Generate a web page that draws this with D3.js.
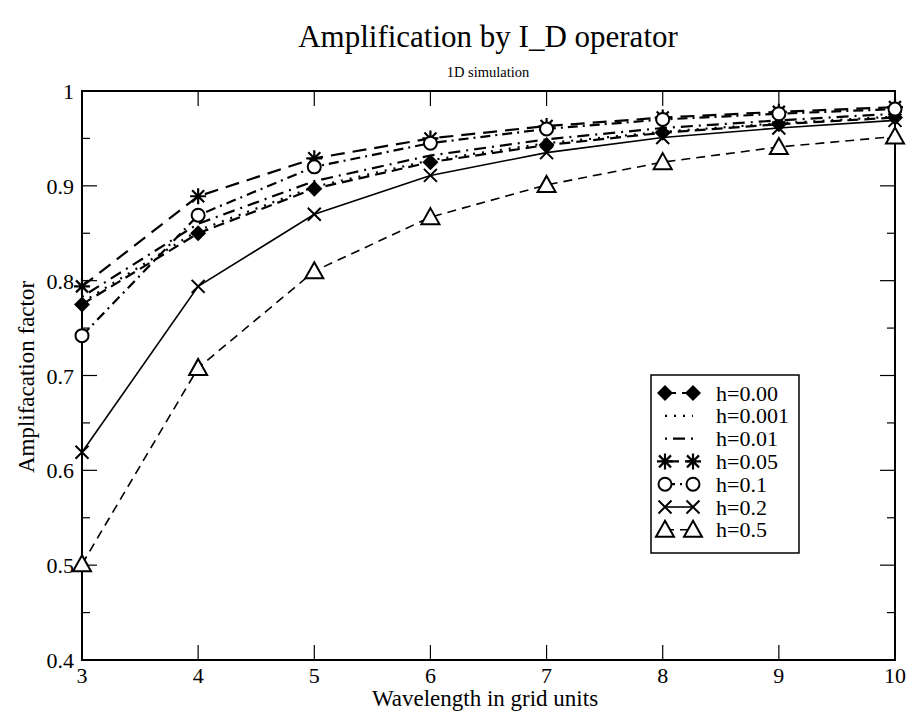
<!DOCTYPE html>
<html lang="en">
<head>
  <meta charset="UTF-8">
  <title>Amplification by I_D operator</title>
  <style>
    body { margin: 0; background: #fff; }
  </style>
</head>
<body>
  <svg id="chart" width="920" height="715" font-family="'Liberation Serif', 'Times New Roman', serif"></svg>

  <script src="https://cdnjs.cloudflare.com/ajax/libs/d3/7.8.5/d3.min.js"></script>
  <script>
    // wavelengths (grid units)
    const wavelengths = [3, 4, 5, 6, 7, 8, 9, 10];

    const h000  = [0.775, 0.850, 0.897, 0.925, 0.943, 0.956, 0.965, 0.972];
    const h0001 = [0.777, 0.853, 0.899, 0.927, 0.945, 0.957, 0.966, 0.973];
    const h001  = [0.783, 0.860, 0.905, 0.932, 0.949, 0.961, 0.969, 0.976];
    const h005  = [0.794, 0.889, 0.929, 0.950, 0.963, 0.972, 0.978, 0.983];
    const h01   = [0.742, 0.869, 0.920, 0.945, 0.960, 0.970, 0.976, 0.981];
    const h02   = [0.619, 0.794, 0.870, 0.911, 0.935, 0.951, 0.961, 0.969];
    const h05   = [0.501, 0.708, 0.810, 0.867, 0.901, 0.925, 0.941, 0.952];

    const seriesNames = ["h=0.00", "h=0.001", "h=0.01", "h=0.05", "h=0.1", "h=0.2", "h=0.5"];
    const seriesValues = [h000, h0001, h001, h005, h01, h02, h05];

    const xTicks = [3, 4, 5, 6, 7, 8, 9, 10];
    const yTicks = [0.4, 0.5, 0.6, 0.7, 0.8, 0.9, 1];
    const yMinor = [0.45, 0.55, 0.65, 0.75, 0.85, 0.95];

    // drawing styles per series
    const styles = [
      { dash: "11,6", width: 2.2, marker: "diamond" },
      { dash: "2,7", width: 2.2, marker: null },
      { dash: "2,6,12,6", width: 2.2, marker: null },
      { dash: "14,8", width: 2.2, marker: "star" },
      { dash: "10,5,2,5", width: 2.2, marker: "circle" },
      { dash: null, width: 1.6, marker: "cross" },
      { dash: "9,6", width: 1.6, marker: "triangle" }
    ];

    const svg = d3.select("#chart");
    const plotLeft = 82, plotRight = 895, plotTop = 91, plotBottom = 660;

    const x = d3.scaleLinear().domain([3, 10]).range([plotLeft, plotRight]);
    const y = d3.scaleLinear().domain([0.4, 1]).range([plotBottom, plotTop]);

    // title
    svg.append("text").attr("x", 488).attr("y", 47).attr("text-anchor", "middle")
      .style("font-size", "31px").text("Amplification by I_D operator");
    svg.append("text").attr("x", 488).attr("y", 77).attr("text-anchor", "middle")
      .style("font-size", "14.5px").text("1D simulation");

    // frame
    svg.append("rect").attr("x", plotLeft).attr("y", plotTop)
      .attr("width", plotRight - plotLeft).attr("height", plotBottom - plotTop)
      .attr("fill", "none").attr("stroke", "#000").attr("stroke-width", 2);

    // ticks (inward, on all four sides)
    const tickG = svg.append("g").attr("stroke", "#000").attr("stroke-width", 1.2);
    xTicks.forEach(t => {
      tickG.append("line").attr("x1", x(t)).attr("x2", x(t)).attr("y1", plotBottom).attr("y2", plotBottom - 15);
      tickG.append("line").attr("x1", x(t)).attr("x2", x(t)).attr("y1", plotTop).attr("y2", plotTop + 15);
    });
    yTicks.forEach(t => {
      tickG.append("line").attr("x1", plotLeft).attr("x2", plotLeft + 15).attr("y1", y(t)).attr("y2", y(t));
      tickG.append("line").attr("x1", plotRight).attr("x2", plotRight - 15).attr("y1", y(t)).attr("y2", y(t));
    });
    yMinor.forEach(t => {
      tickG.append("line").attr("x1", plotLeft).attr("x2", plotLeft + 8).attr("y1", y(t)).attr("y2", y(t));
      tickG.append("line").attr("x1", plotRight).attr("x2", plotRight - 8).attr("y1", y(t)).attr("y2", y(t));
    });

    // tick labels
    svg.append("g").selectAll("text").data(xTicks).enter().append("text")
      .attr("x", d => x(d)).attr("y", plotBottom + 23).attr("text-anchor", "middle")
      .style("font-size", "22px").text(d => d);
    svg.append("g").selectAll("text").data(yTicks).enter().append("text")
      .attr("x", plotLeft - 8).attr("y", d => y(d) + 8).attr("text-anchor", "end")
      .style("font-size", "22px").text(d => d3.format("")(d));

    // axis titles
    svg.append("text").attr("x", 485).attr("y", 706).attr("text-anchor", "middle")
      .style("font-size", "23px").text("Wavelength in grid units");
    svg.append("text").attr("transform", "translate(34,377) rotate(-90)")
      .attr("text-anchor", "middle").style("font-size", "23px").text("Amplifacation factor");

    function drawMarker(g, type, cx, cy) {
      const sw = 2;
      if (type === "diamond") {
        g.append("path").attr("d", `M${cx},${cy - 8}L${cx + 8},${cy}L${cx},${cy + 8}L${cx - 8},${cy}Z`)
          .attr("fill", "#000");
      } else if (type === "circle") {
        g.append("circle").attr("cx", cx).attr("cy", cy).attr("r", 6.5)
          .attr("fill", "#fff").attr("stroke", "#000").attr("stroke-width", sw);
      } else if (type === "cross") {
        g.append("path").attr("d", `M${cx - 6.5},${cy - 6.5}L${cx + 6.5},${cy + 6.5}M${cx - 6.5},${cy + 6.5}L${cx + 6.5},${cy - 6.5}`)
          .attr("stroke", "#000").attr("stroke-width", sw).attr("fill", "none");
      } else if (type === "star") {
        let d = `M${cx - 8},${cy}L${cx + 8},${cy}M${cx},${cy - 8}L${cx},${cy + 8}`;
        d += `M${cx - 6},${cy - 6}L${cx + 6},${cy + 6}M${cx - 6},${cy + 6}L${cx + 6},${cy - 6}`;
        g.append("path").attr("d", d).attr("stroke", "#000").attr("stroke-width", 2.2).attr("fill", "none");
      } else if (type === "triangle") {
        g.append("path").attr("d", `M${cx},${cy - 9}L${cx + 9},${cy + 7}L${cx - 9},${cy + 7}Z`)
          .attr("fill", "#fff").attr("stroke", "#000").attr("stroke-width", sw);
      }
    }

    const line = d3.line().x((d, i) => x(wavelengths[i])).y(d => y(d));
    const plotG = svg.append("g");

    seriesValues.forEach((vals, s) => {
      const st = styles[s];
      plotG.append("path").datum(vals).attr("d", line)
        .attr("fill", "none").attr("stroke", "#000").attr("stroke-width", st.width)
        .attr("stroke-dasharray", st.dash);
      if (st.marker) {
        const mg = plotG.append("g");
        vals.forEach((v, i) => drawMarker(mg, st.marker, x(wavelengths[i]), y(v)));
      }
    });

    // legend
    const legend = svg.append("g");
    legend.append("rect").attr("x", 651).attr("y", 375).attr("width", 148).attr("height", 178)
      .attr("fill", "#fff").attr("stroke", "#000").attr("stroke-width", 1.5);
    seriesNames.forEach((name, s) => {
      const st = styles[s];
      const cy = 393 + s * 22.8;
      legend.append("line").attr("x1", 665).attr("x2", 693).attr("y1", cy).attr("y2", cy)
        .attr("stroke", "#000").attr("stroke-width", st.width)
        .attr("stroke-dasharray", st.dash);
      if (st.marker) {
        drawMarker(legend, st.marker, 665, cy);
        drawMarker(legend, st.marker, 693, cy);
      }
      legend.append("text").attr("x", 716).attr("y", cy + 7.5).style("font-size", "22px").text(name);
    });
  </script>
</body>
</html>
